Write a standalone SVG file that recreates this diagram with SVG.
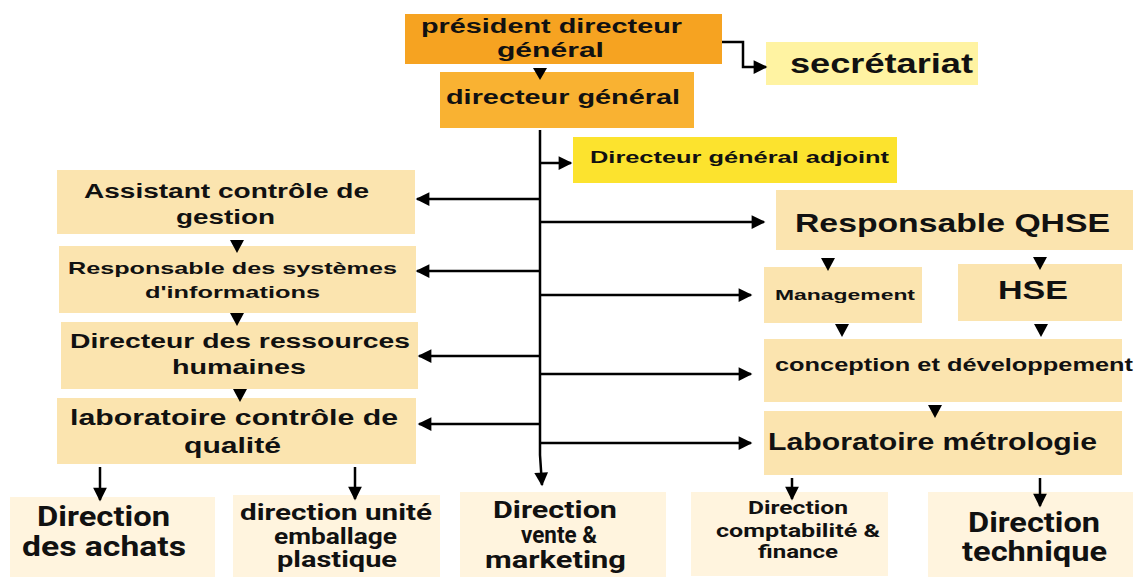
<svg xmlns="http://www.w3.org/2000/svg" width="1141" height="577" viewBox="0 0 1141 577">
<defs>
<marker id="ah" viewBox="0 0 10 10" refX="9" refY="5" markerWidth="6" markerHeight="5.5" orient="auto" markerUnits="strokeWidth">
<path d="M0,0 L10,5 L0,10 z" fill="#000"/>
</marker>
<style>
text{font-family:"Liberation Sans",Arial,sans-serif;font-weight:bold;fill:#111}
.c{font-family:Roboto,"Liberation Sans",sans-serif;font-weight:bold}
.ln{stroke:#000;stroke-width:2.5;fill:none}
.tri{fill:#000}
.pk{fill:#FBE4AF}
.bt{fill:#FFF4DE}
</style>
</defs>
<rect width="1141" height="577" fill="#fff"/>

<g id="pdg"><rect x="405" y="14" width="317" height="50" fill="#F6A321"/>
<text x="421" y="33" font-size="20" textLength="261" lengthAdjust="spacingAndGlyphs">président directeur</text>
<text x="497" y="57" font-size="20" textLength="107" lengthAdjust="spacingAndGlyphs">général</text></g>

<g id="dg"><rect x="440" y="72" width="254" height="56" fill="#F9B232"/>
<text x="446" y="104" font-size="20" textLength="234" lengthAdjust="spacingAndGlyphs">directeur général</text></g>

<g id="secretariat"><rect x="766" y="42" width="212" height="43" fill="#FFF3A2"/>
<text x="790" y="73" font-size="27" textLength="183" lengthAdjust="spacingAndGlyphs">secrétariat</text></g>

<g id="dga"><rect x="573" y="137" width="324" height="46" fill="#FCE32E"/>
<text x="590" y="163" font-size="16" textLength="299" lengthAdjust="spacingAndGlyphs">Directeur général adjoint</text></g>

<g id="acg"><rect class="pk" x="57" y="170" width="358" height="64"/>
<text x="84" y="198" font-size="20" textLength="285" lengthAdjust="spacingAndGlyphs">Assistant contrôle de</text>
<text x="176" y="224" font-size="20" textLength="99" lengthAdjust="spacingAndGlyphs">gestion</text></g>

<g id="rsi"><rect class="pk" x="59" y="246" width="357" height="67"/>
<text x="68" y="274" font-size="17" textLength="329" lengthAdjust="spacingAndGlyphs">Responsable des systèmes</text>
<text x="145" y="298" font-size="17" textLength="175" lengthAdjust="spacingAndGlyphs">d'informations</text></g>

<g id="drh"><rect class="pk" x="61" y="322" width="357" height="67"/>
<text x="70" y="348" font-size="20" textLength="340" lengthAdjust="spacingAndGlyphs">Directeur des ressources</text>
<text x="172" y="374" font-size="20" textLength="134" lengthAdjust="spacingAndGlyphs">humaines</text></g>

<g id="lcq"><rect class="pk" x="57" y="398" width="359" height="66"/>
<text x="70" y="425" font-size="22" textLength="328" lengthAdjust="spacingAndGlyphs">laboratoire contrôle de</text>
<text x="184" y="453" font-size="22" textLength="97" lengthAdjust="spacingAndGlyphs">qualité</text></g>

<g id="qhse"><rect class="pk" x="776" y="190" width="357" height="60"/>
<text x="795" y="232" font-size="26" textLength="315" lengthAdjust="spacingAndGlyphs">Responsable QHSE</text></g>

<g id="management"><rect class="pk" x="764" y="267" width="158" height="56"/>
<text x="775" y="300" font-size="15" textLength="140" lengthAdjust="spacingAndGlyphs">Management</text></g>

<g id="hse"><rect class="pk" x="958" y="264" width="164" height="57"/>
<text x="998" y="299" font-size="26" textLength="70" lengthAdjust="spacingAndGlyphs">HSE</text></g>

<g id="conception"><rect class="pk" x="764" y="339" width="358" height="63"/>
<text x="775" y="371" font-size="18" textLength="358" lengthAdjust="spacingAndGlyphs">conception et développement</text></g>

<g id="metrologie"><rect class="pk" x="764" y="411" width="358" height="64"/>
<text x="768" y="450" font-size="23" textLength="329" lengthAdjust="spacingAndGlyphs">Laboratoire métrologie</text></g>

<g id="achats"><rect class="bt" x="10" y="497" width="205" height="80"/>
<text class="c" x="37" y="526" font-size="27" textLength="133" lengthAdjust="spacingAndGlyphs">Direction</text>
<text class="c" x="22" y="556" font-size="27" textLength="164" lengthAdjust="spacingAndGlyphs">des achats</text></g>

<g id="emballage"><rect class="bt" x="233" y="495" width="207" height="82"/>
<text class="c" x="240" y="520" font-size="22" textLength="192" lengthAdjust="spacingAndGlyphs">direction unité</text>
<text class="c" x="274" y="544" font-size="22" textLength="123" lengthAdjust="spacingAndGlyphs">emballage</text>
<text class="c" x="277" y="567" font-size="22" textLength="120" lengthAdjust="spacingAndGlyphs">plastique</text></g>

<g id="vente"><rect class="bt" x="460" y="492" width="206" height="85"/>
<text class="c" x="493" y="518" font-size="23" textLength="124" lengthAdjust="spacingAndGlyphs">Direction</text>
<text class="c" x="521" y="543" font-size="23" textLength="76" lengthAdjust="spacingAndGlyphs">vente &amp;</text>
<text class="c" x="485" y="568" font-size="23" textLength="141" lengthAdjust="spacingAndGlyphs">marketing</text></g>

<g id="compta"><rect class="bt" x="691" y="492" width="197" height="84"/>
<text class="c" x="748" y="514" font-size="19" textLength="100" lengthAdjust="spacingAndGlyphs">Direction</text>
<text class="c" x="716" y="537" font-size="19" textLength="164" lengthAdjust="spacingAndGlyphs">comptabilité &amp;</text>
<text class="c" x="758" y="558" font-size="19" textLength="80" lengthAdjust="spacingAndGlyphs">finance</text></g>

<g id="technique"><rect class="bt" x="928" y="492" width="205" height="85"/>
<text class="c" x="968" y="532" font-size="27" textLength="132" lengthAdjust="spacingAndGlyphs">Direction</text>
<text class="c" x="962" y="561" font-size="27" textLength="145" lengthAdjust="spacingAndGlyphs">technique</text></g>

<g id="connectors">
<path class="ln" d="M722,42 H743 V67 H766" marker-end="url(#ah)"/>
<polygon class="tri" points="533,68 547,68 540,80"/>
<path class="ln" d="M540,130 V455 L542,485" marker-end="url(#ah)"/>
<path class="ln" d="M540,163 H571" marker-end="url(#ah)"/>
<path class="ln" d="M540,199 H417" marker-end="url(#ah)"/>
<path class="ln" d="M540,271 H417" marker-end="url(#ah)"/>
<path class="ln" d="M540,356 H419" marker-end="url(#ah)"/>
<path class="ln" d="M540,424 H419" marker-end="url(#ah)"/>
<path class="ln" d="M540,222 H764" marker-end="url(#ah)"/>
<path class="ln" d="M540,295 H751" marker-end="url(#ah)"/>
<path class="ln" d="M540,374 H751" marker-end="url(#ah)"/>
<path class="ln" d="M540,443 H751" marker-end="url(#ah)"/>
<polygon class="tri" points="230,240 244,240 237,253"/>
<polygon class="tri" points="230,313 244,313 237,326"/>
<polygon class="tri" points="233,389 247,389 240,402"/>
<polygon class="tri" points="821,258 835,258 828,271"/>
<polygon class="tri" points="1033,257 1047,257 1040,270"/>
<polygon class="tri" points="835,324 849,324 842,337"/>
<polygon class="tri" points="1034,324 1048,324 1041,337"/>
<polygon class="tri" points="928,405 942,405 935,418"/>
<path class="ln" d="M100,467 V500" marker-end="url(#ah)"/>
<path class="ln" d="M355,467 V499" marker-end="url(#ah)"/>
<path class="ln" d="M792,478 V499" marker-end="url(#ah)"/>
<path class="ln" d="M1040,478 V506" marker-end="url(#ah)"/>
</g>
</svg>
